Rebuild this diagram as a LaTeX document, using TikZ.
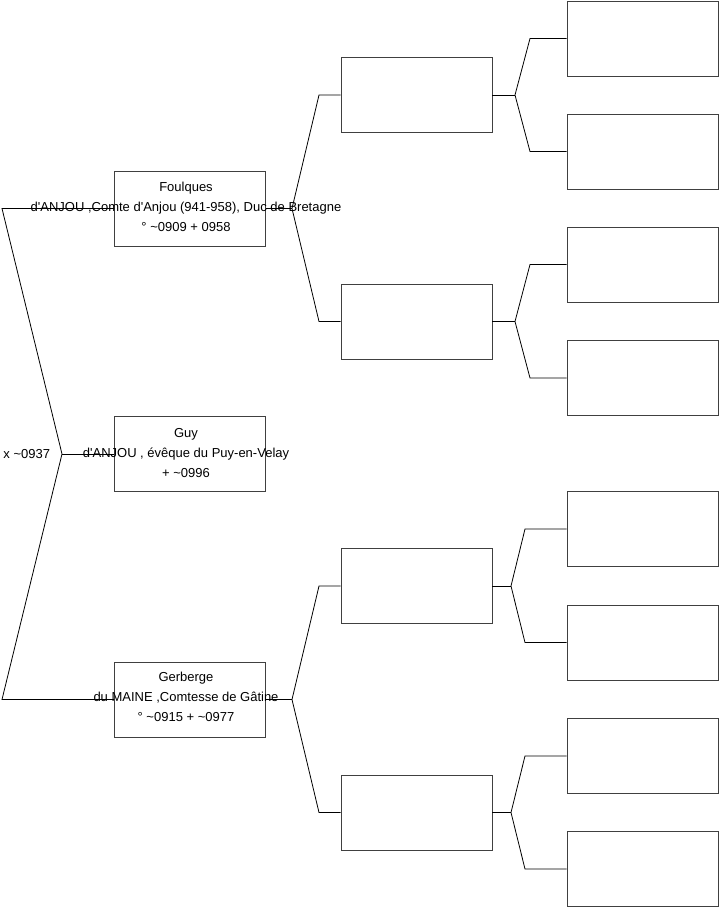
\documentclass[tikz,border=0pt]{standalone}
\usepackage{fontspec}
\setmainfont{Liberation Sans}

\begin{document}
\begin{tikzpicture}[x=1pt, y=-1pt, line width=0.8pt,
  pbox/.style={draw=black!75, minimum width=151pt, minimum height=75pt, inner sep=0pt},
  ptext/.style={align=center, inner sep=0pt, font=\fontsize{13}{20}\selectfont}]
  \useasboundingbox (0,0) rectangle (719,908);
  % Generation 1
  \node[pbox] (foulques) at (190,208.5) {};
  \node[pbox] (guy) at (190,454) {};
  \node[pbox] (gerberge) at (190,699.5) {};
  \node[ptext] (tfoulques) at (186,207) {Foulques\\d\textquotesingle ANJOU ,Comte d\textquotesingle Anjou (941-958), Duc de Bretagne\\° \textasciitilde 0909 + 0958};
  \node[ptext] (tguy) at (186,453) {Guy\\d\textquotesingle ANJOU , évêque du Puy-en-Velay\\+ \textasciitilde 0996};
  \node[ptext] (tgerberge) at (186,697) {Gerberge\\du MAINE ,Comtesse de Gâtine\\° \textasciitilde 0915 + \textasciitilde 0977};
  % Generation 2
  \node[pbox] (fa) at (416.5,95) {};
  \node[pbox] (fb) at (416.5,321.5) {};
  \node[pbox] (ga) at (416.5,586) {};
  \node[pbox] (gb) at (416.5,812.5) {};
  % Generation 3
  \node[pbox] (faa) at (642.5,38.5) {};
  \node[pbox] (fab) at (642.5,151.5) {};
  \node[pbox] (fba) at (642.5,264.5) {};
  \node[pbox] (fbb) at (642.5,378) {};
  \node[pbox] (gaa) at (642.5,529) {};
  \node[pbox] (gab) at (642.5,642.5) {};
  \node[pbox] (gba) at (642.5,756) {};
  \node[pbox] (gbb) at (642.5,869) {};
  % Union
  \coordinate (union) at (62,454);
  \node[ptext, anchor=west] (marriage) at (3,454) {x \textasciitilde 0937};
  \draw (foulques.west) -- (2,208.5) -- (union) -- (2,699.5) -- (gerberge.west);
  \draw (union) -- (guy.west);
  % Brackets
  \coordinate (kf) at (292,208.5);
  \coordinate (kg) at (292,699.5);
  \draw (fa.west) -- (319,95) -- (kf) -- (319,321.5) -- (fb.west);
  \draw (foulques.east) -- (kf);
  \draw (ga.west) -- (319,586) -- (kg) -- (319,812.5) -- (gb.west);
  \draw (gerberge.east) -- (kg);
  \coordinate (kfa) at (515,95);
  \coordinate (kfb) at (515,321.5);
  \coordinate (kga) at (511,586);
  \coordinate (kgb) at (511,812.5);
  \draw (faa.west) -- (530,38.5) -- (kfa) -- (530,151.5) -- (fab.west);
  \draw (fa.east) -- (kfa);
  \draw (fba.west) -- (530,264.5) -- (kfb) -- (530,378) -- (fbb.west);
  \draw (fb.east) -- (kfb);
  \draw (gaa.west) -- (525,529) -- (kga) -- (525,642.5) -- (gab.west);
  \draw (ga.east) -- (kga);
  \draw (gba.west) -- (525,756) -- (kgb) -- (525,869) -- (gbb.west);
  \draw (gb.east) -- (kgb);
\end{tikzpicture}
\end{document}
